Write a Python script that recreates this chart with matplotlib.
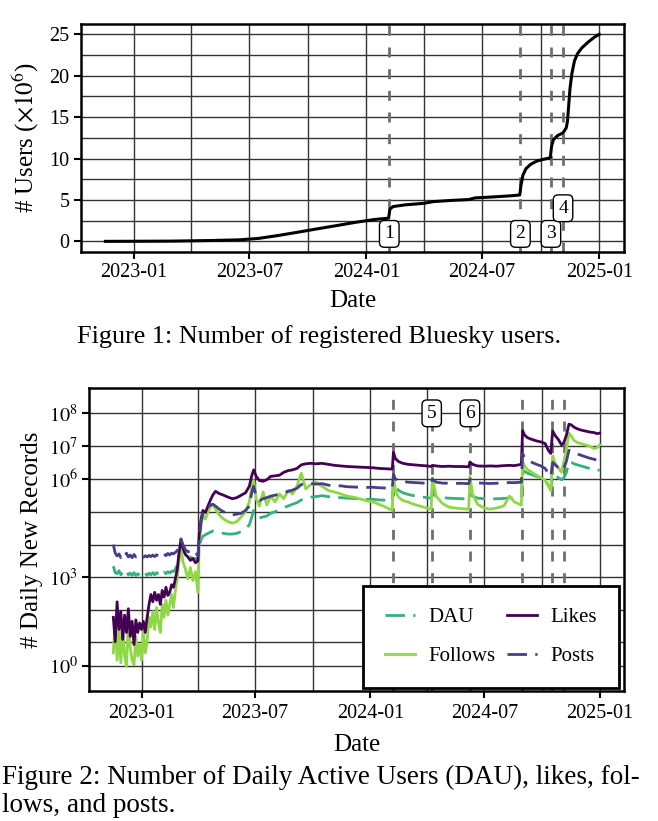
import numpy as np
import pandas as pd
import matplotlib
matplotlib.use('Agg')
import matplotlib.pyplot as plt
import matplotlib.dates as mdates
from matplotlib.ticker import FixedLocator, FixedFormatter, MultipleLocator, NullFormatter

plt.rcParams['font.family'] = 'serif'
plt.rcParams['font.serif'] = ['Liberation Serif', 'DejaVu Serif']
plt.rcParams['mathtext.fontset'] = 'stix'

#
# Registered users (millions)
#
user_dates = ['2022-11-17', '2023-01-01', '2023-03-01', '2023-05-01', '2023-06-15', '2023-07-15',
              '2023-08-15', '2023-09-15', '2023-10-15', '2023-11-15', '2023-12-15', '2024-01-15',
              '2024-02-05', '2024-02-07', '2024-02-12', '2024-03-01', '2024-04-01', '2024-04-15',
              '2024-05-15', '2024-06-10', '2024-06-20', '2024-07-15', '2024-08-15', '2024-08-29',
              '2024-08-31', '2024-09-03', '2024-09-08', '2024-09-15', '2024-09-25', '2024-10-05',
              '2024-10-16', '2024-10-18', '2024-10-21', '2024-10-28', '2024-11-05', '2024-11-10',
              '2024-11-12', '2024-11-14', '2024-11-16', '2024-11-19', '2024-11-23', '2024-11-28',
              '2024-12-05', '2024-12-15', '2024-12-25', '2025-01-01']
users_m = [0.0, 0.01, 0.03, 0.1, 0.18, 0.35,
           0.7, 1.1, 1.5, 1.9, 2.3, 2.65,
           2.8, 3.9, 4.2, 4.4, 4.6, 4.8,
           4.95, 5.05, 5.25, 5.35, 5.5, 5.6,
           6.8, 8.0, 8.8, 9.3, 9.7, 9.9,
           10.1, 11.5, 12.3, 12.8, 13.1, 13.7,
           14.5, 16.5, 18.5, 20.3, 21.8, 22.7,
           23.4, 24.1, 24.7, 25.0]

#
# Daily new records (shared dates for the four series)
#
rec_dates = [
    # 2022-11 .. 2023-02
    '2022-11-17', '2022-11-20', '2022-11-23', '2022-11-26', '2022-11-29',
    '2022-12-02', '2022-12-05', '2022-12-08', '2022-12-11', '2022-12-14',
    '2022-12-17', '2022-12-20', '2022-12-23', '2022-12-26', '2022-12-29',
    '2023-01-01', '2023-01-04', '2023-01-07', '2023-01-10', '2023-01-13',
    '2023-01-16', '2023-01-19', '2023-01-22', '2023-01-25', '2023-01-28', '2023-01-31',
    '2023-02-03', '2023-02-06', '2023-02-09', '2023-02-12', '2023-02-15',
    '2023-02-18', '2023-02-21', '2023-02-24', '2023-02-27',
    # 2023-03 .. 2023-12
    '2023-03-02', '2023-03-05', '2023-03-08', '2023-03-12', '2023-03-16', '2023-03-20', '2023-03-24', '2023-03-28',
    '2023-04-01', '2023-04-03', '2023-04-06', '2023-04-09', '2023-04-13', '2023-04-17', '2023-04-21', '2023-04-25', '2023-04-29',
    '2023-05-05', '2023-05-12', '2023-05-19', '2023-05-26',
    '2023-06-02', '2023-06-09', '2023-06-16', '2023-06-22', '2023-06-26', '2023-06-29',
    '2023-07-03', '2023-07-08', '2023-07-14', '2023-07-20', '2023-07-26',
    '2023-08-02', '2023-08-09', '2023-08-16', '2023-08-23', '2023-08-30',
    '2023-09-06', '2023-09-13', '2023-09-20', '2023-09-27',
    '2023-10-06', '2023-10-16', '2023-10-26',
    '2023-11-05', '2023-11-15', '2023-11-25',
    '2023-12-05', '2023-12-15', '2023-12-25',
    # 2024
    '2024-01-05', '2024-01-15', '2024-01-25',
    '2024-02-05', '2024-02-07', '2024-02-10', '2024-02-15', '2024-02-22',
    '2024-03-01', '2024-03-10', '2024-03-20',
    '2024-04-01', '2024-04-07', '2024-04-09', '2024-04-15', '2024-04-25',
    '2024-05-05', '2024-05-15', '2024-05-25',
    '2024-06-06', '2024-06-08', '2024-06-12', '2024-06-20',
    '2024-07-01', '2024-07-10', '2024-07-20',
    '2024-08-01', '2024-08-10', '2024-08-18', '2024-08-29', '2024-08-31',
    '2024-09-03', '2024-09-08', '2024-09-15', '2024-09-22', '2024-09-29',
    '2024-10-06', '2024-10-11', '2024-10-15', '2024-10-18', '2024-10-22', '2024-10-27',
    '2024-11-01', '2024-11-05', '2024-11-09', '2024-11-13', '2024-11-17', '2024-11-21', '2024-11-26',
    '2024-12-02', '2024-12-09', '2024-12-16', '2024-12-23', '2024-12-28',
    '2025-01-01',
]

likes = [
    60, 10, 180, 25, 90,
    12, 70, 20, 110, 15,
    45, 8, 50, 20, 40,
    25, 45, 20, 60, 150,
    300, 180, 350, 200, 300, 150,
    400, 250, 500, 280, 350,
    600, 500, 900, 1800,
    6000, 14000, 8000, 5000, 4200, 3300, 3800, 2800,
    3200, 20000, 60000, 110000, 95000, 150000, 230000, 330000, 420000,
    360000, 320000, 280000, 250000,
    270000, 320000, 380000, 600000, 1.3e6, 1.9e6,
    1.2e6, 9e5, 8.5e5, 9.5e5, 1.2e6,
    1.25e6, 1.3e6, 1.6e6, 1.8e6, 1.9e6,
    2.1e6, 2.7e6, 2.9e6, 3.0e6,
    2.9e6, 3.0e6, 2.8e6,
    2.6e6, 2.5e6, 2.4e6,
    2.35e6, 2.3e6, 2.25e6,
    2.2e6, 2.1e6, 2.05e6,
    2.0e6, 6.5e6, 4.2e6, 3.4e6, 3.0e6,
    2.8e6, 2.7e6, 2.6e6,
    2.5e6, 2.4e6, 2.6e6, 2.5e6, 2.4e6,
    2.45e6, 2.4e6, 2.4e6,
    2.35e6, 3.3e6, 2.8e6, 2.5e6,
    2.45e6, 2.5e6, 2.45e6,
    2.55e6, 2.6e6, 2.55e6, 2.8e6, 3.0e7,
    2.2e7, 1.8e7, 1.6e7, 1.45e7, 1.35e7,
    1.2e7, 7.5e6, 6.0e6, 2.9e7, 2.1e7, 1.6e7,
    1.1e7, 1.3e7, 2.2e7, 4.7e7, 4.4e7, 3.8e7, 3.4e7,
    3.1e7, 2.9e7, 2.7e7, 2.6e7, 2.4e7,
    2.5e7,
]

follows = [
    4, 50, 2, 25, 1.5,
    30, 3, 1, 40, 6,
    2, 1.2, 15, 3, 8,
    2, 25, 4, 10, 60,
    30, 90, 25, 120, 40, 20,
    150, 60, 200, 70, 150,
    300, 120, 400, 900,
    3500, 8000, 3000, 1800, 900, 2000, 800, 1500,
    350, 9000, 40000, 80000, 60000, 100000, 140000, 170000, 120000,
    80000, 60000, 50000, 45000,
    50000, 70000, 100000, 200000, 600000, 900000,
    250000, 150000, 400000, 160000, 300000,
    200000, 350000, 250000, 450000, 350000,
    600000, 1.5e6, 500000, 650000,
    800000, 600000, 450000,
    400000, 350000, 300000,
    280000, 250000, 220000,
    200000, 170000, 140000,
    110000, 1.3e6, 450000, 280000, 220000,
    200000, 170000, 150000,
    130000, 120000, 1.1e6, 300000, 180000,
    140000, 130000, 125000,
    120000, 1.2e6, 350000, 170000,
    130000, 120000, 130000,
    150000, 300000, 200000, 160000, 3.5e6,
    2.5e6, 1.9e6, 1.6e6, 1.3e6, 1.1e6,
    900000, 600000, 450000, 5e6, 3e6, 2.2e6,
    1.6e6, 3.5e6, 8e6, 2.5e7, 2e7, 1.5e7, 1.3e7,
    1.2e7, 1.1e7, 1.0e7, 8.5e6, 9e6,
    1.1e7,
]

posts = [
    10000, 5500, 4500, 5200, 4000,
    5000, 4300, 5500, 4200, 4800,
    4000, 5000, 4200, 4600, 4100,
    4500, 4100, 4600, 4200, 4700,
    4300, 4800, 4300, 4900, 4400, 5000,
    4500, 5200, 4600, 5400, 4800,
    5500, 5200, 5800, 6500,
    9000, 15000, 10000, 7000, 6000, 6500, 5500, 6000,
    4500, 15000, 50000, 90000, 110000, 140000, 160000, 170000, 150000,
    120000, 100000, 85000, 80000,
    85000, 90000, 110000, 150000, 400000, 600000,
    280000, 220000, 250000, 270000, 300000,
    320000, 350000, 380000, 420000, 460000,
    520000, 680000, 720000, 740000,
    700000, 720000, 650000,
    600000, 620000, 580000,
    570000, 560000, 550000,
    560000, 540000, 530000,
    520000, 1.4e6, 1.0e6, 900000, 850000,
    800000, 780000, 760000,
    740000, 730000, 1.0e6, 800000, 750000,
    740000, 730000, 740000,
    720000, 1.0e6, 850000, 760000,
    740000, 730000, 740000,
    760000, 780000, 770000, 800000, 6.0e6,
    4.5e6, 3.8e6, 3.2e6, 2.8e6, 2.5e6,
    2.1e6, 1.5e6, 1.2e6, 3.2e6, 2.7e6, 2.2e6,
    1.8e6, 2.2e6, 3.5e6, 7.5e6, 7.0e6, 6.2e6, 5.8e6,
    5.3e6, 4.8e6, 4.3e6, 4.0e6, 3.7e6,
    3.8e6,
]

dau = [
    2200, 1400, 1300, 1600, 1200,
    1400, 1200, 1500, 1200, 1350,
    1150, 1400, 1150, 1300, 1150,
    1300, 1150, 1350, 1150, 1350,
    1200, 1400, 1200, 1400, 1250, 1450,
    1250, 1450, 1300, 1500, 1350,
    1550, 1500, 1800, 2400,
    4500, 9000, 6000, 4500, 4000, 4200, 3600, 3800,
    3200, 8000, 14000, 18000, 20000, 22000, 24000, 26000, 25000,
    23000, 22000, 21000, 21000,
    22000, 25000, 30000, 40000, 70000, 110000,
    75000, 65000, 70000, 75000, 90000,
    100000, 115000, 135000, 150000, 170000,
    190000, 230000, 260000, 280000,
    290000, 310000, 290000,
    280000, 270000, 260000,
    255000, 245000, 240000,
    240000, 230000, 225000,
    220000, 900000, 600000, 450000, 380000,
    340000, 310000, 290000,
    270000, 260000, 380000, 300000, 270000,
    260000, 255000, 250000,
    245000, 380000, 300000, 260000,
    250000, 245000, 250000,
    255000, 265000, 260000, 270000, 1.9e6,
    1.7e6, 1.5e6, 1.35e6, 1.2e6, 1.1e6,
    950000, 650000, 500000, 1.4e6, 1.25e6, 1.1e6,
    950000, 1.1e6, 1.6e6, 3.3e6, 3.2e6, 2.9e6, 2.7e6,
    2.5e6, 2.3e6, 2.1e6, 2.0e6, 1.8e6,
    1.9e6,
]

#
# Events marked with dashed lines
#
event_names = ['1', '5', '6', '2', '3', '4']
event_dates = ['2024-02-06', '2024-04-08', '2024-06-08', '2024-08-30', '2024-10-17', '2024-11-05']

series_names = ['DAU', 'Follows', 'Likes', 'Posts']
series_colors = ['#35b27a', '#8fd744', '#440154', '#453f88']

udates = pd.to_datetime(user_dates)
rdates = pd.to_datetime(rec_dates)
edates = dict(zip(event_names, pd.to_datetime(event_dates)))

W, H = 658, 821
fig = plt.figure(figsize=(W / 100, H / 100), dpi=100)


def px_axes(left, top, right, bottom):
    return fig.add_axes([left / W, 1 - bottom / H, (right - left) / W, (bottom - top) / H])


def style_axes(ax, xlabelpad):
    for s in ax.spines.values():
        s.set_linewidth(1.8)
    ax.xaxis.set_major_locator(mdates.MonthLocator(bymonth=[1, 7]))
    ax.xaxis.set_minor_locator(mdates.MonthLocator(bymonth=[4, 10]))
    ax.xaxis.set_major_formatter(mdates.DateFormatter('%Y-%m'))
    ax.grid(which='both', color='#333333', lw=1.0)
    ax.tick_params(which='major', length=5, width=1.5, labelsize=14.5, pad=3)
    ax.tick_params(which='minor', length=0)
    ax.set_xlabel('Date', fontsize=18, labelpad=xlabelpad)


def event_line(ax, name):
    ax.axvline(edates[name], color='#6e6e6e', lw=2, ls=(0, (3.6, 4.2)), zorder=1.8)


def event_box(ax, name, y):
    ax.text(edates[name], y, name, ha='center', va='center', fontsize=14, zorder=5,
            bbox=dict(boxstyle='round,pad=0.25', fc='white', ec='black', lw=1.0))


#
# Figure 1
#
ax1 = px_axes(80.7, 24, 624, 251.7)
ax1.plot(udates, users_m, color='black', lw=2.2, zorder=3)
for n in ['1', '2', '3', '4']:
    event_line(ax1, n)
for n in ['1', '2', '3']:
    event_box(ax1, n, 0.9)
event_box(ax1, '4', 4.0)
style_axes(ax1, 6)
ax1.yaxis.set_major_locator(MultipleLocator(5))
ax1.yaxis.set_minor_locator(MultipleLocator(2.5))
ax1.set_ylabel('# Users ($\\times10^6$)', fontsize=18, labelpad=6)

fig.text(319 / W, 1 - 337 / H, 'Figure 1: Number of registered Bluesky users.',
         ha='center', va='center', fontsize=18.8)

#
# Figure 2
#
fwd = lambda v: np.log10(np.clip(1 + np.asarray(v, dtype=float), 1e-12, None))
inv = lambda u: 10 ** np.asarray(u, dtype=float) - 1

ax2 = px_axes(89, 388.3, 624, 691)
ax2.set_yscale('function', functions=(fwd, inv))
series_values = [dau, follows, likes, posts]
for name, vals, col in zip(series_names, series_values, series_colors):
    if name in ('DAU', 'Posts'):
        ax2.plot(rdates, vals, color=col, lw=2, ls=(0, (7, 3)), label=name, zorder=3)
    else:
        ax2.plot(rdates, vals, color=col, lw=2, label=name, zorder=3)
for n in event_names:
    event_line(ax2, n)
event_box(ax2, '5', 1e8)
event_box(ax2, '6', 1e8)
style_axes(ax2, 8)
ax2.tick_params(axis='x', which='major', pad=4.5)
ax2.set_ylim(-0.654, 5.8e8)
ax2.yaxis.set_major_locator(FixedLocator([1, 1e3, 1e6, 1e7, 1e8]))
ax2.yaxis.set_major_formatter(FixedFormatter(['$10^0$', '$10^3$', '$10^6$', '$10^7$', '$10^8$']))
ax2.yaxis.set_minor_locator(FixedLocator([10, 100, 1e4, 1e5]))
ax2.yaxis.set_minor_formatter(NullFormatter())
ax2.set_ylabel('# Daily New Records', fontsize=18, labelpad=4)

leg = ax2.legend(ncol=2, loc='lower right', bbox_to_anchor=(0.991, 0.01), borderaxespad=0,
                 fontsize=15, frameon=True, fancybox=False, framealpha=1, edgecolor='black',
                 handlelength=1.45, handletextpad=0.65, columnspacing=0.55, labelspacing=0.93,
                 borderpad=1.05)
leg.get_frame().set_linewidth(2)
leg.set_zorder(6)

fig.text(2 / W, 1 - 777 / H, 'Figure 2: Number of Daily Active Users (DAU), likes, fol-',
         ha='left', va='center', fontsize=19.5)
fig.text(2 / W, 1 - 805 / H, 'lows, and posts.', ha='left', va='center', fontsize=19.5)

fig.savefig('out.png', dpi=100)
